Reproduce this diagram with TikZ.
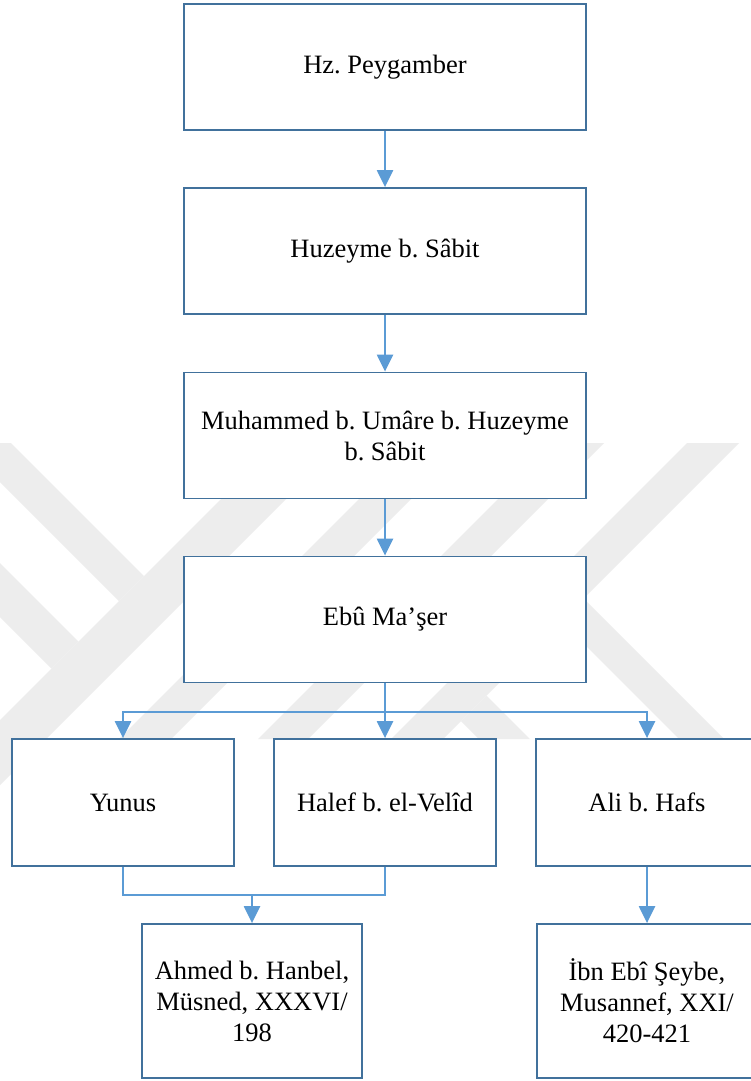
\documentclass[tikz,border=0pt]{standalone}
\usepackage{fontspec}
\setmainfont{Liberation Serif}
\usetikzlibrary{arrows.meta}
\definecolor{boxblue}{HTML}{41719C}
\definecolor{linkblue}{HTML}{5B9BD5}
\definecolor{wmgray}{RGB}{237,237,237}
\frenchspacing
\begin{document}
\begin{tikzpicture}[x=1pt,y=-1pt,
  box/.style={draw=boxblue, line width=1.8pt, fill=white, inner sep=0pt, align=center,
              font=\fontsize{26.5}{31}\selectfont},
  wide/.style={minimum width=402pt, minimum height=126pt},
  narrow/.style={minimum width=222pt, minimum height=127pt},
  tall/.style={minimum width=220pt, minimum height=154pt},
  conn/.style={draw=linkblue, line width=2.3pt},
  arr/.style={conn, -{Triangle[width=16pt,length=17pt]}},
  wm/.style={fill=wmgray, draw=none}]
\useasboundingbox (0,0) rectangle (750,1081);
\fill[white] (0,0) rectangle (750,1081);
% faint background watermark
\begin{scope}
  \clip (0,443) rectangle (750,790);
  \fill[wm] (-100,332) -- (144,576) -- (119,601) -- (-100,382) -- cycle;
  \fill[wm] (-100,463) -- (78.5,641.5) -- (51.5,668.5) -- (-100,517) -- cycle;
  \fill[wm] (320,400) -- (-80,800) -- (-15,800) -- (385,400) -- cycle;
  \fill[wm] (458,400) -- (58,800) -- (110,800) -- (510,400) -- cycle;
  \fill[wm] (597,400) -- (258,739) -- (308,739) -- (647,400) -- cycle;
  \fill[wm] (730,400) -- (391,739) -- (443,739) -- (782,400) -- cycle;
  \fill[wm] (486.5,695.5) -- (530,739) -- (479,739) -- (461,721) -- cycle;
  \fill[wm] (583.5,598.5) -- (724,739) -- (679,739) -- (561,621) -- cycle;
\end{scope}
% boxes
\node[box,wide] (n1) at (385,67) {Hz. Peygamber};
\node[box,wide] (n2) at (385,251) {Huzeyme b. Sâbit};
\node[box,wide] (n3) at (385,435.5) {Muhammed b. Umâre b. Huzeyme\\b. Sâbit};
\node[box,wide] (n4) at (385,619.5) {Ebû Ma’şer};
\node[box,narrow] (yunus) at (123,802.5) {Yunus};
\node[box,narrow] (halef) at (385,802.5) {Halef b. el-Velîd};
\node[box,narrow] (ali) at (647,802.5) {Ali b. Hafs};
\node[box,tall] (ahmed) at (252,1001) {Ahmed b. Hanbel,\\Müsned, XXXVI/\\198};
\node[box,tall] (ibn) at (647,1001) {İbn Ebî Şeybe,\\Musannef, XXI/\\420-421};
% connectors
\coordinate (split) at (385,712);
\coordinate (join) at (252,895);
\draw[arr] (n1.south) -- (n2.north);
\draw[arr] (n2.south) -- (n3.north);
\draw[arr] (n3.south) -- (n4.north);
\draw[arr] (n4.south) -- (halef.north);
\draw[arr] (split) -| (yunus.north);
\draw[arr] (split) -| (ali.north);
\draw[conn] (yunus.south) |- (join) -| (halef.south);
\draw[arr] (join) -- (ahmed.north);
\draw[arr] (ali.south) -- (ibn.north);
\end{tikzpicture}
\end{document}
